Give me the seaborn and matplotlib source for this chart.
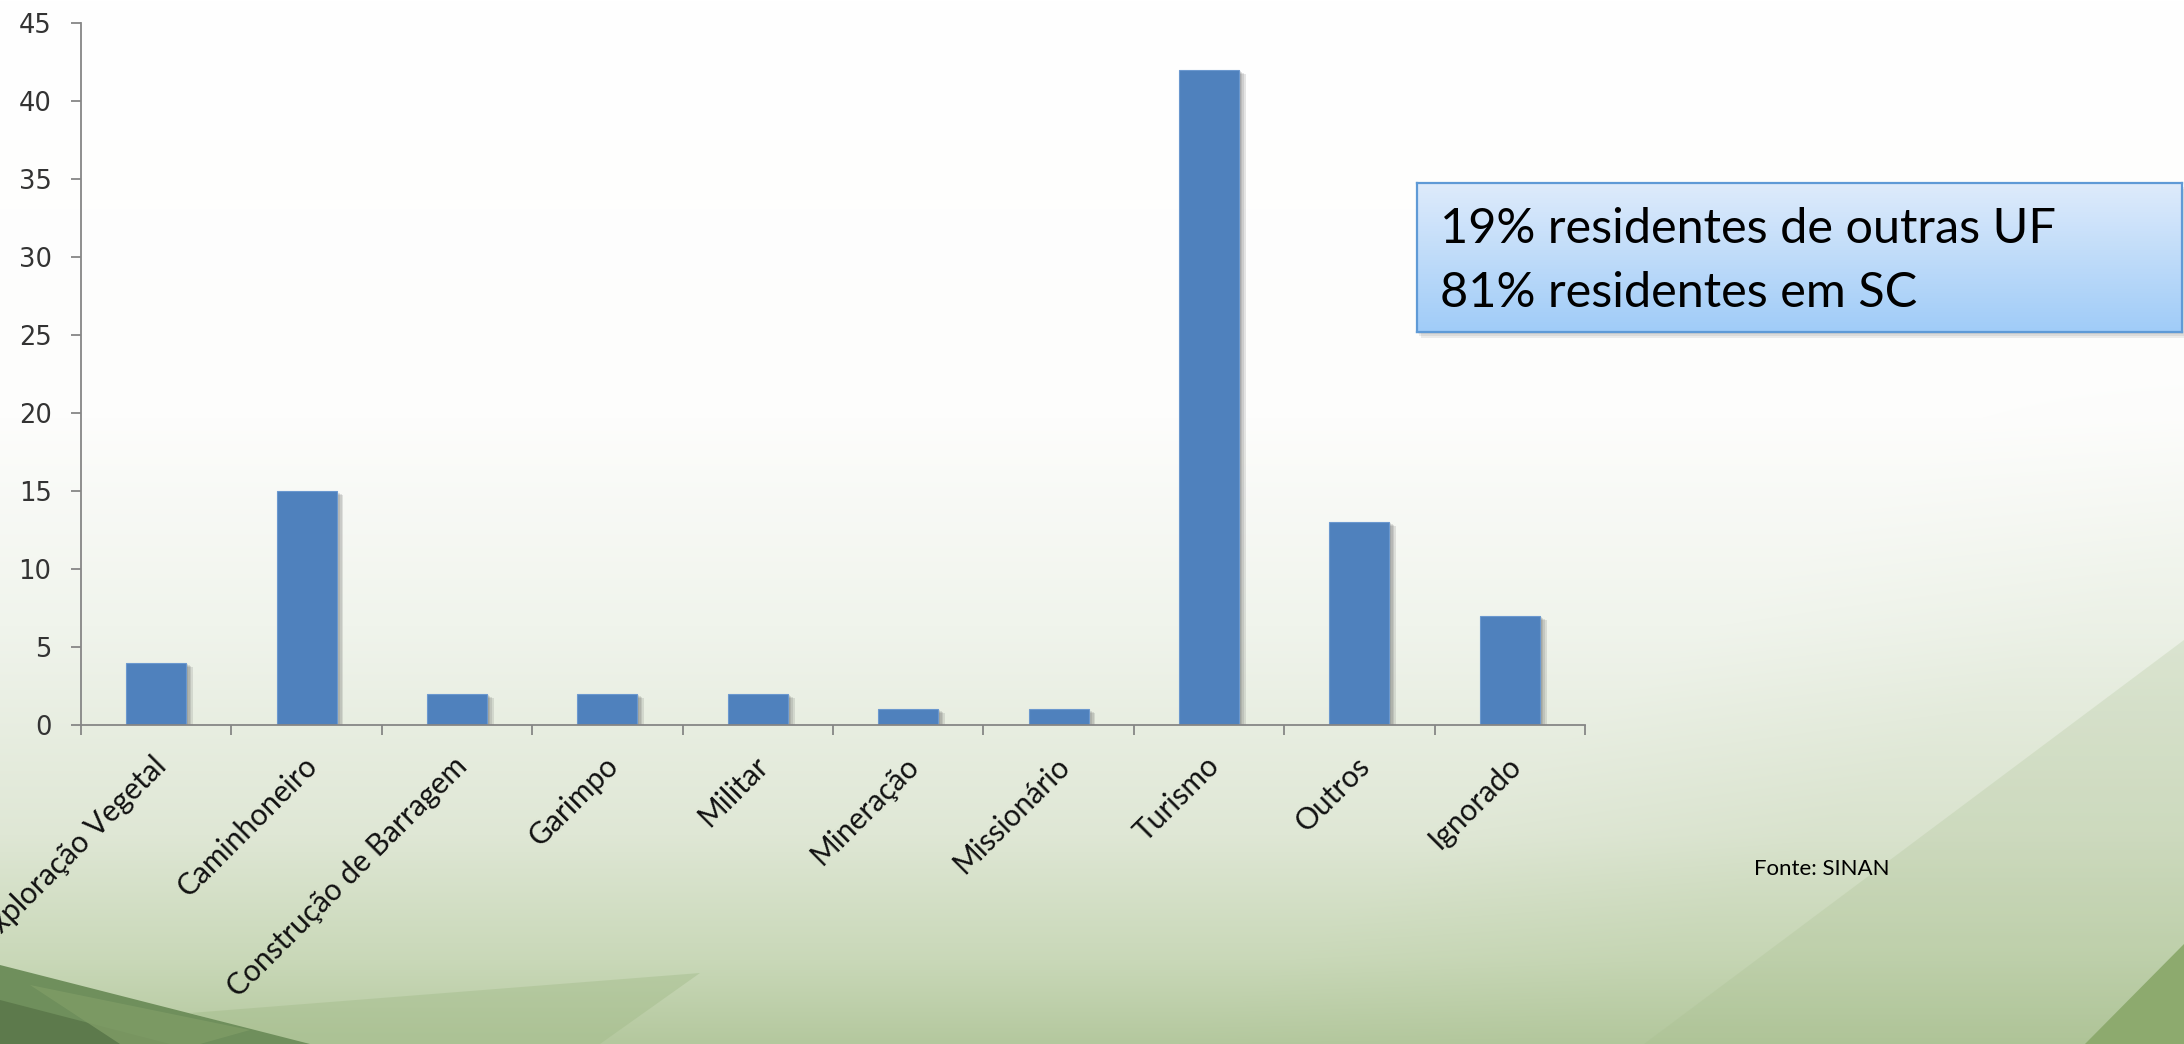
import numpy as np
import pandas as pd
import matplotlib
matplotlib.use("Agg")
import matplotlib.pyplot as plt
import matplotlib.patheffects as pe
from matplotlib.patches import Polygon, Rectangle
from matplotlib.colors import to_rgb
from matplotlib.transforms import ScaledTranslation
import seaborn as sns

# --- data ---------------------------------------------------------------
categories = ["Exploração Vegetal", "Caminhoneiro", "Construção de Barragem",
              "Garimpo", "Militar", "Mineração", "Missionário", "Turismo",
              "Outros", "Ignorado"]
counts = [4, 15, 2, 2, 2, 1, 1, 42, 13, 7]
y_ticks = [0, 5, 10, 15, 20, 25, 30, 35, 40, 45]
box_lines = ["19% residentes de outras UF", "81% residentes em SC"]
source_note = "Fonte: SINAN"

W, H = 2184, 1044
BAR_BLUE = "#4f81bd"
AXIS_GREY = "#868686"
LABEL_FONT = "Lato"


def fx(x):
    return x / W


def fy(y):
    return 1 - y / H


fig = plt.figure(figsize=(W / 100, H / 100), dpi=100)

# --- slide background: white fading into soft green -----------------------
bg = fig.add_axes([0, 0, 1, 1], zorder=0)
v = np.linspace(0, 1, H)[:, None]
u = np.linspace(0, 1, W)[None, :]
stops_v = [0.0, 0.40, 0.60, 0.80, 0.92, 1.0]
stops_c = [to_rgb(c) for c in ["#ffffff", "#fdfdfc", "#f0f4ec",
                               "#dfe7d5", "#c9d8b8", "#b4c89e"]]
img = np.zeros((H, W, 3))
for k in range(3):
    col = np.interp(v[:, 0], stops_v, [c[k] for c in stops_c])
    img[:, :, k] = col[:, None]
# faintly greener wedge on the right, behind a diagonal sweep
d = (u - 0.54) - (1.0 - v) * (0.46 / 0.75)
mask = np.clip(d * 6, 0, 1) * np.clip((v - 0.35) * 2.0, 0, 1)
green = np.array(to_rgb("#a9c08f"))
img = img * (1 - 0.12 * mask[..., None]) + green * (0.12 * mask[..., None])
bg.imshow(img, extent=(0, W, H, 0), aspect="auto", interpolation="bilinear")
bg.set_xlim(0, W)
bg.set_ylim(H, 0)
bg.axis("off")

swooshes = [
    ([(190, 1013), (700, 973), (600, 1044), (300, 1044)], "#9fb986", 0.40),
    ([(0, 965), (310, 1044), (0, 1044)], "#6f8f5c", 1.0),
    ([(0, 1000), (170, 1044), (0, 1044)], "#5d7a4c", 1.0),
    ([(30, 985), (250, 1030), (200, 1044), (120, 1044)], "#7f9c66", 0.8),
    ([(1644, 1044), (2184, 640), (2184, 1044)], "#a3bb89", 0.22),
    ([(2085, 1044), (2184, 944), (2184, 1044)], "#8daa6e", 1.0),
]
for pts, col, a in swooshes:
    bg.add_patch(Polygon(pts, closed=True, facecolor=col, edgecolor="none",
                         alpha=a))

# soft drop shadow of the note box
for i, a in enumerate([0.10, 0.10, 0.10]):
    off = 2 + 2 * i
    bg.add_patch(Rectangle((1417 + off * 0.6, 183 + off), 2182 - 1417, 149,
                           facecolor="#555555", edgecolor="none", alpha=a))

# --- bar chart ----------------------------------------------------------
ax = fig.add_axes([fx(81), fy(725), (1585 - 81) / W, (725 - 23) / H],
                  zorder=2)
ax.patch.set_alpha(0)
df = pd.DataFrame({"categoria": categories, "casos": counts})
sns.barplot(data=df, x="categoria", y="casos", color=BAR_BLUE,
            saturation=1, width=0.4, ax=ax, edgecolor="#6b98cf",
            linewidth=0.8)

# layered offsets give the bars a soft, blurred-looking drop shadow
shadow = [pe.SimplePatchShadow(offset=(o, -o * 0.6), shadow_rgbFace="#555555",
                               alpha=0.15) for o in (1.2, 2.4, 3.6, 4.8)]
for bar in ax.patches:
    bar.set_path_effects(shadow + [pe.Normal()])

ax.set_ylim(0, 45)
ax.set_yticks(y_ticks)
ax.set_xlim(-0.5, len(categories) - 0.5)
ax.set_xlabel("")
ax.set_ylabel("")
for side in ("top", "right"):
    ax.spines[side].set_visible(False)
for side in ("left", "bottom"):
    ax.spines[side].set_color(AXIS_GREY)
    ax.spines[side].set_linewidth(1.3)

ax.tick_params(axis="y", length=7.2, width=1.3, color=AXIS_GREY, pad=14,
               labelsize=18.5, labelcolor="#333333")
ax.set_xticks(np.arange(-0.5, len(categories), 1), minor=True)
ax.tick_params(axis="x", which="minor", length=7.2, width=1.3,
               color=AXIS_GREY, direction="out")
ax.tick_params(axis="x", which="major", length=0, pad=26)
shift = ScaledTranslation(0.06, 0, fig.dpi_scale_trans)
for lab in ax.get_xticklabels():
    lab.set_rotation(45)
    lab.set_ha("right")
    lab.set_va("center")
    lab.set_rotation_mode("anchor")
    lab.set_fontfamily(LABEL_FONT)
    lab.set_fontsize(21.5)
    lab.set_color("#111111")
    lab.set_transform(lab.get_transform() + shift)

# --- note box with blue gradient ------------------------------------------
bx = fig.add_axes([fx(1417), fy(332), (2182 - 1417) / W, (332 - 183) / H],
                  zorder=3)
grad = np.linspace(0, 1, 200)[:, None]
top_c, bot_c = np.array(to_rgb("#deebfb")), np.array(to_rgb("#a0ccf8"))
box_img = top_c * (1 - grad[..., None]) + bot_c * grad[..., None]
box_img = np.repeat(box_img, 2, axis=1)
bx.imshow(box_img, extent=(0, 1, 0, 1), aspect="auto")
bx.set_xticks([])
bx.set_yticks([])
for sp in bx.spines.values():
    sp.set_color("#5f9ad6")
    sp.set_linewidth(1.6)

fig.text(fx(1440), fy(243), box_lines[0], fontfamily=LABEL_FONT,
         fontsize=35, color="#000000", va="baseline", zorder=10)
fig.text(fx(1440), fy(307), box_lines[1], fontfamily=LABEL_FONT,
         fontsize=35, color="#000000", va="baseline", zorder=10)

fig.text(fx(1822), fy(869), source_note, fontfamily=LABEL_FONT, fontsize=16,
         color="#000000", ha="center", va="center", zorder=10)

fig.savefig("out.png", dpi=100)
